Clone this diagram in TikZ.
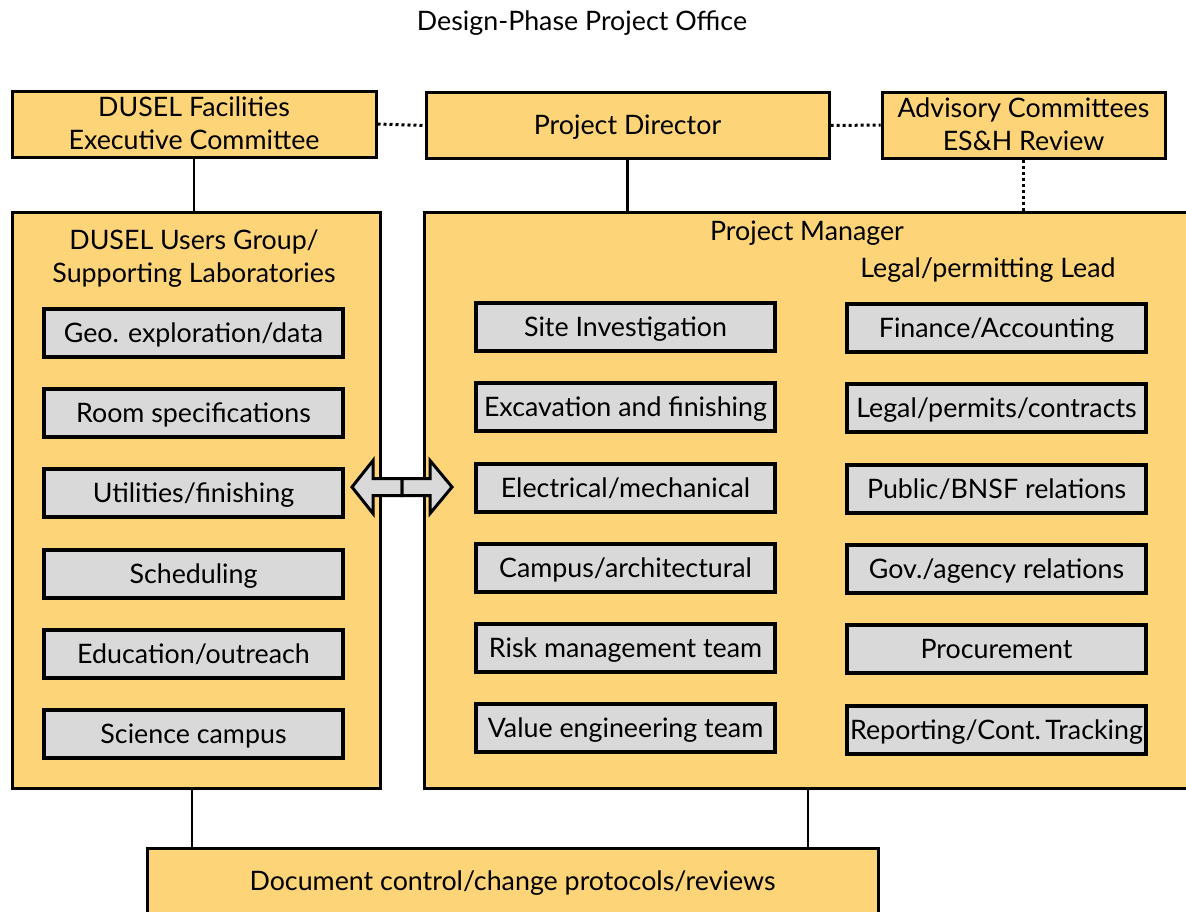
\documentclass[tikz,border=0pt]{standalone}
\usepackage{fontspec}
\setmainfont{Lato}
\usepackage{tikz}
\usetikzlibrary{arrows.meta,positioning}
\definecolor{PanelGold}{HTML}{FED478}
\definecolor{TaskGray}{HTML}{D9D9D9}

\begin{document}
\begin{tikzpicture}[x=0.5pt,y=-0.5pt,
    every node/.style={font=\fontsize{13.4}{16.5}\selectfont,inner sep=0pt,text depth=0.5pt},
    headbox/.style={draw=black,fill=PanelGold,line width=1.5pt,minimum height=33pt,align=center},
    groupbox/.style={draw=black,fill=PanelGold,line width=1.5pt,minimum height=288pt},
    taskbox/.style={draw=black,fill=TaskGray,line width=1.6pt,minimum width=149.5pt,minimum height=24pt},
    link/.style={line width=1.2pt},
    advice/.style={line width=1.5pt,dash pattern=on 1.5pt off 1.5pt},
    swap/.style={draw=black,fill=TaskGray,line width=1.5pt,line join=miter}]
    \useasboundingbox (0,0) rectangle (1186,911);
    \clip (0,0) rectangle (1186,911);

    \node (title) at (582,21) {Design-Phase Project Office};

    % top row
    \node[headbox,minimum width=182pt] (exec) at (194,124) {DUSEL Facilities\\Executive Committee};
    \node[headbox,minimum width=201.5pt] (director) at (627.5,125.5) {Project Director};
    \node[headbox,minimum width=141.5pt] (advisory) at (1023.5,125) {Advisory Committees\\ES\&H Review};

    % the two groups
    \node[groupbox,minimum width=184pt] (users) at (196,500) {};
    \node[groupbox,minimum width=388pt] (manager) at (812,500) {};
    \node[align=center] (userslabel) at (194,257) {DUSEL Users Group/\\Supporting Laboratories};
    \node (managerlabel) at (807,231) {Project Manager};
    \node (legallabel) at (988,268) {Legal/permitting Lead};

    % user side tasks
    \node[taskbox] (geo) at (193.5,333) {Geo. exploration/data};
    \node[taskbox] (room) at (193.5,413) {Room specifications};
    \node[taskbox] (utilities) at (193.5,493) {Utilities/finishing};
    \node[taskbox] (scheduling) at (193.5,574) {Scheduling};
    \node[taskbox] (education) at (193.5,654) {Education/outreach};
    \node[taskbox] (science) at (193.5,734) {Science campus};

    % engineering tasks
    \node[taskbox] (site) at (625.5,327) {Site Investigation};
    \node[taskbox] (excavation) at (625.5,407) {Excavation and finishing};
    \node[taskbox] (electrical) at (625.5,488) {Electrical/mechanical};
    \node[taskbox] (campus) at (625.5,568) {Campus/architectural};
    \node[taskbox] (risk) at (625.5,648) {Risk management team};
    \node[taskbox] (value) at (625.5,728) {Value engineering team};

    % business tasks
    \node[taskbox] (finance) at (996.5,328) {Finance/Accounting};
    \node[taskbox] (legal) at (996.5,408) {Legal/permits/contracts};
    \node[taskbox] (public) at (996.5,489) {Public/BNSF relations};
    \node[taskbox] (agency) at (996.5,569) {Gov./agency relations};
    \node[taskbox] (procurement) at (996.5,649) {Procurement};
    \node[taskbox] (reporting) at (996.5,730) {Reporting/Cont.\,Tracking};

    \node[headbox,minimum width=365.5pt] (docs) at (512.5,881) {Document control/change protocols/reviews};

    % connectors
    \draw[advice] (exec.east) -- (director.west);
    \draw[advice] (director.east) -- (advisory.west);
    \draw[link] (exec.south) -- (exec.south |- users.north);
    \draw[link] (director.south) -- (director.south |- manager.north);
    \draw[advice] (advisory.south) -- (advisory.south |- manager.north);
    \coordinate (usersfoot) at (192,788);
    \coordinate (managerfoot) at (808,788);
    \draw[link] (usersfoot) -- (usersfoot |- docs.north);
    \draw[link] (managerfoot) -- (managerfoot |- docs.north);

    % exchange arrow between the groups
    \coordinate (exchange) at (402,487);
    \draw[swap,shift={(exchange)}] (0,-8.5) -- (-29,-8.5) -- (-29,-26.5) -- (-50,0) -- (-29,26.5) -- (-29,8.5) -- (0,8.5) -- cycle;
    \draw[swap,shift={(exchange)}] (0,-8.5) -- (28,-8.5) -- (28,-26.5) -- (50,0) -- (28,26.5) -- (28,8.5) -- (0,8.5) -- cycle;
  \end{tikzpicture}
\end{document}
